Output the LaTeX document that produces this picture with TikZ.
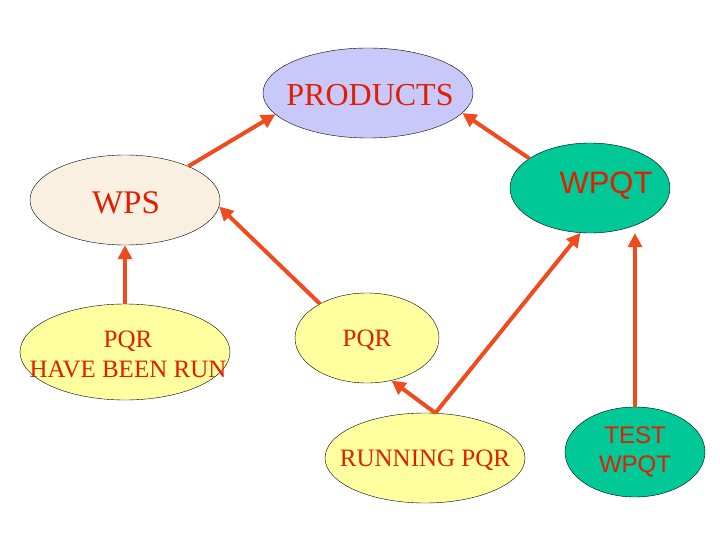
\documentclass[tikz,border=0pt]{standalone}
\usepackage{fontspec}
\setmainfont{Liberation Serif}
\newfontfamily\sansfnt{Liberation Sans}
\usetikzlibrary{shapes.geometric,arrows.meta}
\definecolor{arrred}{RGB}{240,75,30}
\definecolor{txtred}{RGB}{225,30,0}
\definecolor{lav}{RGB}{200,200,250}
\definecolor{cream}{RGB}{250,240,225}
\definecolor{grn}{RGB}{0,200,150}
\definecolor{yel}{RGB}{255,255,160}
\tikzset{
  blob/.style={draw, ellipse, inner sep=0pt},
  word/.style={text=txtred, align=center, inner sep=0pt},
  link/.style={draw=arrred, line width=4pt, -{Triangle[length=14pt,width=14pt]}}
}
\begin{document}
\begin{tikzpicture}[x=1pt,y=-1pt]
\useasboundingbox (0,0) rectangle (720,540);
\node[blob, fill=lav, minimum width=210, minimum height=90] (prod) at (368,93) {};
\node[word, font=\fontsize{32}{34}\selectfont] at (370,95) {PRODUCTS};
\node[blob, fill=cream, minimum width=190, minimum height=90] (wps) at (125,200) {};
\node[word, font=\fontsize{33}{35}\selectfont] at (126,203) {WPS};
\node[blob, fill=grn, minimum width=160, minimum height=90] (wpqt) at (590,188) {};
\node[word, font=\sansfnt\fontsize{31}{33}\selectfont] at (606,186) {WPQT};
\node[blob, fill=yel, minimum width=210, minimum height=96] (hbr) at (125,352) {};
\node[word, font=\fontsize{25}{30}\selectfont] at (128,354) {PQR\\HAVE BEEN RUN};
\node[blob, fill=yel, minimum width=144, minimum height=90] (pqr) at (367,338) {};
\node[word, font=\fontsize{25}{28}\selectfont] at (367,340) {PQR};
\node[blob, fill=yel, minimum width=200, minimum height=90] (run) at (425,458) {};
\node[word, font=\fontsize{25}{28}\selectfont] at (425,460) {RUNNING PQR};
\node[blob, fill=grn, minimum width=140, minimum height=90] (test) at (635,452) {};
\node[word, font=\sansfnt\fontsize{24}{29}\selectfont] at (635,452) {TEST\\WPQT};

\draw[link] (wps.28) -- (prod.193);
\draw[link] (wpqt.154) -- (prod.348);
\draw[link] (hbr.90) -- (wps.270);
\draw[link] (pqr.144) -- (wps.356);
\draw[link] (run.77) -- (pqr.300);
\draw[link] (run.77) -- (wpqt.258);
\draw[link] (test.north) -- (wpqt.south -| test.north);
\end{tikzpicture}
\end{document}
